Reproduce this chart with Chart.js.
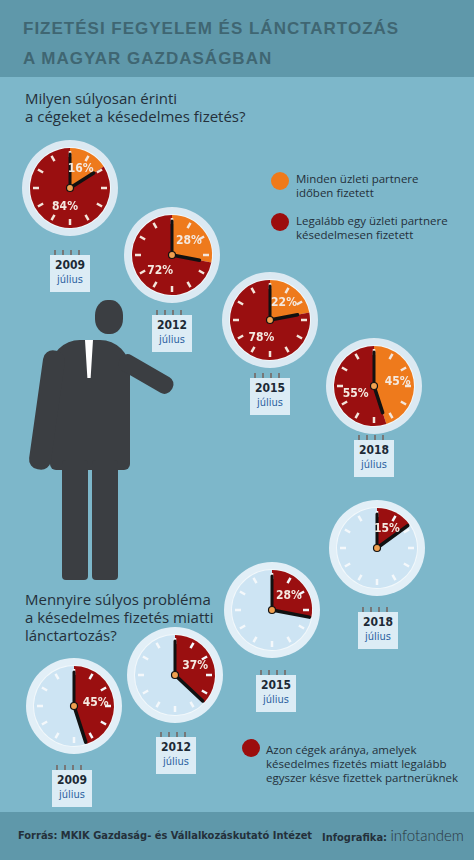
<!DOCTYPE html>
<html><head><meta charset="utf-8">
<script src="https://cdn.jsdelivr.net/npm/chart.js@4"></script>
<style>
body{margin:0;width:474px;height:860px;overflow:hidden;background:#7db7ca;font-family:"Open Sans",sans-serif;position:relative}
.hdr{position:absolute;left:0;top:0;width:474px;height:77px;background:#5f98aa}
.ftr{position:absolute;left:0;top:812px;width:474px;height:48px;background:#5f98aa}
.t{position:absolute;color:#24303a}
h1{position:absolute;left:23px;top:14px;margin:0;font:bold 17px "Liberation Sans",sans-serif;letter-spacing:1px;color:#3f6672;line-height:30px}
.q{font-size:15px;line-height:18px}
.cal{position:absolute;width:40px;height:34px;background:#dcecf5;text-align:center;font:bold 12px "DejaVu Sans Condensed",sans-serif;color:#1d2a35;line-height:14px;padding-top:3px}
.cal span{font-weight:normal;color:#2a5fa0;font-size:11px}
.cal:before{content:"";position:absolute;left:4px;top:-5px;width:32px;height:5px;background:repeating-linear-gradient(90deg,#777 0 2px,transparent 2px 8px)}
.dot{position:absolute;width:18px;height:18px;border-radius:50%}
.lg{font-size:11.5px;line-height:14px}
canvas{position:absolute}
.man{position:absolute;background:#3b3e42}
</style></head><body>
<div class="hdr"></div><div class="ftr"></div>
<h1>FIZETÉSI FEGYELEM ÉS LÁNCTARTOZÁS<br>A MAGYAR GAZDASÁGBAN</h1>
<div class="t q" style="left:25px;top:89px">Milyen súlyosan érinti<br>a cégeket a késedelmes fizetés?</div>
<div class="dot" style="left:271px;top:172px;background:#ef7a1a"></div>
<div class="t lg" style="left:296px;top:172px">Minden üzleti partnere<br>időben fizetett</div>
<div class="dot" style="left:271px;top:213px;background:#9c0d0d"></div>
<div class="t lg" style="left:296px;top:214px">Legalább egy üzleti partnere<br>késedelmesen fizetett</div>
<div class="t q" style="left:25px;top:590px">Mennyire súlyos probléma<br>a késedelmes fizetés miatti<br>lánctartozás?</div>
<div class="dot" style="left:242px;top:739px;background:#9c0d0d"></div>
<div class="t lg" style="left:266px;top:743px">Azon cégek aránya, amelyek<br>késedelmes fizetés miatt legalább<br>egyszer késve fizettek partnerüknek</div>
<div class="t" style="left:18px;top:829px;font:bold 11px 'DejaVu Sans Condensed',sans-serif">Forrás: MKIK Gazdaság- és Vállalkozáskutató Intézet</div>
<div class="t" style="left:322px;top:826px;font:bold 11px 'DejaVu Sans Condensed',sans-serif">Infografika: <span style="font:300 15px Lato;color:#2a3640">infotandem</span></div>
<div class="man" style="left:95px;top:300px;width:28px;height:34px;border-radius:45%"></div>
<div class="man" style="left:50px;top:340px;width:80px;height:130px;border-radius:30px 30px 6px 6px"></div>
<div class="man" style="left:36px;top:350px;width:22px;height:120px;border-radius:10px;transform:rotate(8deg)"></div>
<div class="man" style="left:120px;top:350px;width:60px;height:18px;border-radius:8px;transform:rotate(30deg);transform-origin:left"></div>
<div class="man" style="left:62px;top:460px;width:26px;height:120px;border-radius:4px"></div>
<div class="man" style="left:92px;top:460px;width:26px;height:120px;border-radius:4px"></div>
<div style="position:absolute;left:85px;top:340px;width:8px;height:38px;background:#fff;clip-path:polygon(0 0,100% 0,70% 100%,30% 100%)"></div>

<script>
const years=["2009","2012","2015","2018"];
const onTime=[16,28,22,45];
const late=[84,72,78,55];
const chain=[45,37,28,15];
const topPos=[[70,188],[172,255],[270,320],[374,386]];
const botPos=[[74,706],[175,675],[272,610],[377,548]];
const topCal=[[70,270],[172,330],[270,393],[374,455]];
const botCal=[[72,785],[176,752],[276,690],[378,627]];

const clockPlugin={id:'clock',
beforeDraw(c,a,o){const x=c.ctx,cx=c.width/2/(window.devicePixelRatio||1),cy=cx;x.save();
 x.beginPath();x.arc(cx,cy,48,0,7);x.fillStyle=o.ring;x.fill();
 x.beginPath();x.arc(cx,cy,41,0,7);x.fillStyle='#f2f8fb';x.fill();x.restore();},
afterDraw(c,a,o){const x=c.ctx,cx=c.width/2/(window.devicePixelRatio||1),cy=cx;x.save();
 for(let i=0;i<12;i++){const an=i*Math.PI/6-Math.PI/2;x.beginPath();
  x.moveTo(cx+31*Math.cos(an),cy+31*Math.sin(an));x.lineTo(cx+37*Math.cos(an),cy+37*Math.sin(an));
  x.strokeStyle=o.tick;x.lineWidth=2.5;x.stroke();}
 const b=o.split/100*2*Math.PI-Math.PI/2;
 x.strokeStyle='#111';x.lineCap='round';
 x.lineWidth=3;x.beginPath();x.moveTo(cx,cy);x.lineTo(cx,cy-34);x.stroke();
 x.lineWidth=3.5;x.beginPath();x.moveTo(cx,cy);x.lineTo(cx+(o.hl)*Math.cos(b),cy+(o.hl)*Math.sin(b));x.stroke();
 x.beginPath();x.arc(cx,cy,3.5,0,7);x.fillStyle='#f0a050';x.fill();x.lineWidth=1.2;x.stroke();
 x.fillStyle='#f4e9e0';x.font='bold 12px "DejaVu Sans Condensed",sans-serif';x.textAlign='center';x.textBaseline='middle';
 o.labels.forEach(l=>{const an=l.mid/100*2*Math.PI-Math.PI/2;x.fillText(l.t,cx+l.r*Math.cos(an),cy+l.r*Math.sin(an));});
 x.restore();}};

function make(pos,data,colors,opt){
 const cv=document.createElement('canvas');cv.width=110;cv.height=110;
 cv.style.cssText=`left:${pos[0]-55}px;top:${pos[1]-55}px;width:110px;height:110px`;
 document.body.appendChild(cv);
 new Chart(cv,{type:'pie',data:{labels:['a','b'],datasets:[{data,backgroundColor:colors,borderWidth:0}]},
  options:{responsive:false,animation:false,radius:40,layout:{padding:0},events:[],
   plugins:{legend:{display:false},tooltip:{enabled:false},clock:opt}},plugins:[clockPlugin]});
}
years.forEach((y,i)=>{
 make(topPos[i],[onTime[i],late[i]],['#ee7a1c','#9a0f10'],{ring:'#dbe9f2',tick:'#f3e6dc',split:onTime[i],hl:28,
  labels:[{t:onTime[i]+'%',mid:onTime[i]/2,r:onTime[i]>30?24:22},{t:late[i]+'%',mid:onTime[i]+late[i]/2-4,r:20}]});
 make(botPos[i],[chain[i],100-chain[i]],['#9a0f10','#cde4f3'],{ring:'#e2eff7',tick:'#f4f8fb',split:chain[i],hl:38,
  labels:[{t:chain[i]+'%',mid:chain[i]/2,r:22}]});
 [[topCal[i]],[botCal[i]]].forEach(p=>{const d=document.createElement('div');d.className='cal';
  d.style.left=(p[0][0]-20)+'px';d.style.top=(p[0][1]-15)+'px';d.innerHTML=y+'<br><span>július</span>';document.body.appendChild(d);});
});
</script>
</body></html>
